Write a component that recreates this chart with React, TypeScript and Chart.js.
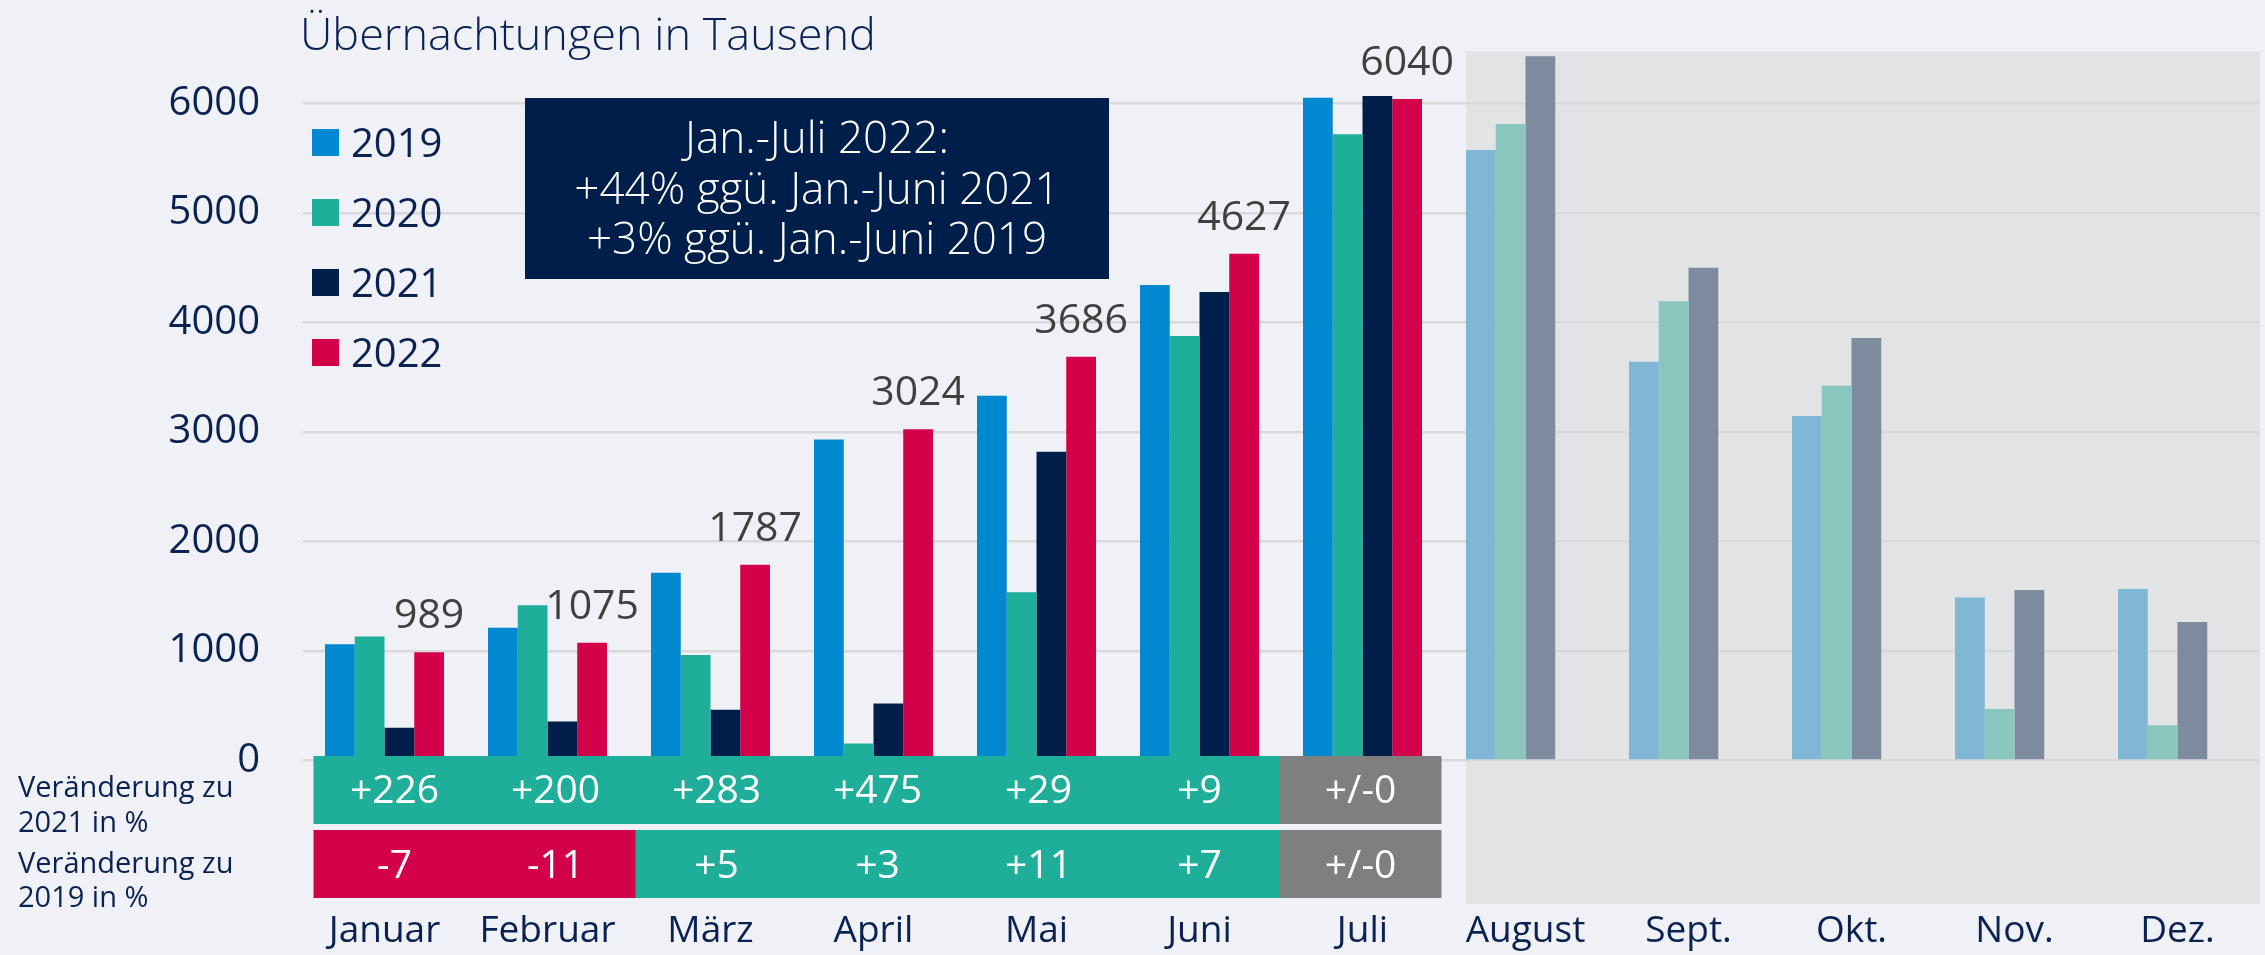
import React, { useEffect, useRef } from 'react';
import { Chart, registerables } from 'chart.js';

Chart.register(...registerables);

// ---------- data ----------
const MONTHS = ['Januar', 'Februar', 'März', 'April', 'Mai', 'Juni', 'Juli', 'August', 'Sept.', 'Okt.', 'Nov.', 'Dez.'];
const YEARS = ['2019', '2020', '2021', '2022'];
const VALUES_2019 = [1062, 1213, 1715, 2930, 3330, 4341, 6051, 5574, 3641, 3146, 1488, 1566];
const VALUES_2020 = [1132, 1417, 964, 156, 1535, 3876, 5717, 5811, 4192, 3422, 470, 321];
const VALUES_2021 = [299, 357, 464, 521, 2819, 4277, 6067, 6429, 4499, 3857, 1556, 1265];
const VALUES_2022 = [989, 1075, 1787, 3024, 3686, 4627, 6040, null, null, null, null, null];
const CHANGE_VS_2021 = ['+226', '+200', '+283', '+475', '+29', '+9', '+/-0'];
const CHANGE_VS_2019 = ['-7', '-11', '+5', '+3', '+11', '+7', '+/-0'];
const Y_TICKS = [0, 1000, 2000, 3000, 4000, 5000, 6000];
const TITLE = 'Übernachtungen in Tausend';
const NOTE_LINES = ['Jan.-Juli 2022:', '+44% ggü. Jan.-Juni 2021', '+3% ggü. Jan.-Juni 2019'];
const ROW_LABELS = [['Veränderung zu', '2021 in %'], ['Veränderung zu', '2019 in %']];

// ---------- styles ----------
const W = 2265;
const H = 955;
const BG = '#f0f1f6';
const SHADE = '#e2e3e5';
const NAVY_TEXT = '#0b2251';
const FULL_COLORS = ['#0089d0', '#1eae9a', '#001e4a', '#d3004a'];
const LIGHT_COLORS = ['#7fb7d5', '#89c6be', '#7e8a9d', '#e08aa5'];
const POS_COLOR = '#1eae9a';
const NEG_COLOR = '#d3004a';
const ZERO_COLOR = '#7f7f7f';
const GRID_COLOR = '#d9d9dc';
const FONT = "'Open Sans', 'Noto Sans', sans-serif";
const GROUP_FRACTION = 0.73;

function drawText(ctx: CanvasRenderingContext2D, s: string, x: number, y: number, font: string, color: string, align: CanvasTextAlign = 'left', baseline: CanvasTextBaseline = 'alphabetic') {
  ctx.save();
  ctx.font = font;
  ctx.fillStyle = color;
  ctx.textAlign = align;
  ctx.textBaseline = baseline;
  ctx.fillText(s, x, y);
  ctx.restore();
}

function changeColor(s: string) {
  if (s.startsWith('+/-')) return ZERO_COLOR;
  if (s.startsWith('-')) return NEG_COLOR;
  return POS_COLOR;
}

function noScalePadding(s: any) {
  s.paddingLeft = 0;
  s.paddingRight = 0;
  s.paddingTop = 0;
  s.paddingBottom = 0;
}

const backgroundPlugin = {
  id: 'bgShade',
  beforeDraw(chart: any) {
    const { ctx, chartArea, scales } = chart;
    ctx.save();
    ctx.fillStyle = BG;
    ctx.fillRect(0, 0, chart.width, chart.height);
    const xs = scales.x;
    const catW = (xs.right - xs.left) / MONTHS.length;
    const firstForecast = VALUES_2022.findIndex((v) => v === null);
    const left = xs.getPixelForValue(firstForecast) - (catW * GROUP_FRACTION) / 2;
    ctx.fillStyle = SHADE;
    ctx.fillRect(left, chartArea.top + 3, chartArea.right + 1 - left, 904 - (chartArea.top + 3));
    ctx.restore();
  },
};

const overlayPlugin = {
  id: 'overlay',
  afterDatasetsDraw(chart: any) {
    const { ctx, scales, chartArea } = chart;
    const xs = scales.x;
    const catW = (xs.right - xs.left) / MONTHS.length;

    // title
    drawText(ctx, TITLE, chartArea.left - 3, 50, `300 45px ${FONT}`, NAVY_TEXT);

    // legend
    chart.data.datasets.forEach((ds: any, i: number) => {
      const top = 129 + i * 70;
      ctx.save();
      ctx.fillStyle = FULL_COLORS[i];
      ctx.fillRect(chartArea.left + 9, top, 27, 27);
      ctx.restore();
      drawText(ctx, ds.label, chartArea.left + 48, top + 28, `40px ${FONT}`, NAVY_TEXT);
    });

    // note box
    const bx = 525, by = 98, bw = 584, bh = 181;
    ctx.save();
    ctx.fillStyle = '#001e4a';
    ctx.fillRect(bx, by, bw, bh);
    ctx.restore();
    NOTE_LINES.forEach((line, i) => {
      drawText(ctx, line, bx + bw / 2, 153 + i * 50.7, `300 44px ${FONT}`, '#ffffff', 'center');
    });

    // data labels for 2022
    const meta = chart.getDatasetMeta(3);
    VALUES_2022.forEach((v, i) => {
      if (v === null) return;
      const el = meta.data[i];
      drawText(ctx, String(v), el.x, el.y - 24, `41px ${FONT}`, '#404040', 'center');
    });

    // change rows
    const left = xs.getPixelForValue(0) - catW / 2 + 11;
    const right = xs.getPixelForValue(CHANGE_VS_2021.length - 1) + catW / 2 - 3;
    const cellW = (right - left) / CHANGE_VS_2021.length;
    const rows = [
      { values: CHANGE_VS_2021, top: 756, bottom: 824, base: 803 },
      { values: CHANGE_VS_2019, top: 830, bottom: 898, base: 878 },
    ];
    rows.forEach((row) => {
      row.values.forEach((s, i) => {
        ctx.save();
        ctx.fillStyle = changeColor(s);
        ctx.fillRect(left + i * cellW - 0.5, row.top, cellW + 1, row.bottom - row.top);
        ctx.restore();
      });
      row.values.forEach((s, i) => {
        drawText(ctx, s, left + (i + 0.5) * cellW, row.base, `39px ${FONT}`, '#ffffff', 'center');
      });
    });

    // row captions
    const captionBases = [[797, 832], [873, 907]];
    ROW_LABELS.forEach((lines, r) => {
      lines.forEach((line, j) => {
        drawText(ctx, line, 18, captionBases[r][j], `29px ${FONT}`, NAVY_TEXT);
      });
    });
  },
};

export default function App() {
  const canvasRef = useRef<HTMLCanvasElement | null>(null);

  useEffect(() => {
    document.body.style.margin = '0';
    document.body.style.background = BG;
    const canvas = canvasRef.current;
    if (!canvas) return;
    const series = [VALUES_2019, VALUES_2020, VALUES_2021, VALUES_2022];
    const chart = new Chart(canvas, {
      type: 'bar',
      data: {
        labels: MONTHS,
        datasets: YEARS.map((y, i) => ({
          label: y,
          data: series[i],
          backgroundColor: VALUES_2022.map((v) => (v === null ? LIGHT_COLORS[i] : FULL_COLORS[i])),
          borderWidth: 0,
          categoryPercentage: GROUP_FRACTION,
          barPercentage: 1,
        })),
      },
      options: {
        responsive: false,
        maintainAspectRatio: false,
        animation: false,
        devicePixelRatio: 1,
        layout: { padding: { left: 0, right: 6, top: 48.5, bottom: 0 } },
        plugins: {
          legend: { display: false },
          tooltip: { enabled: false },
          title: { display: false },
        },
        scales: {
          x: {
            grid: { display: false, drawTicks: false },
            border: { display: false },
            ticks: {
              padding: 149,
              autoSkip: false,
              maxRotation: 0,
              color: NAVY_TEXT,
              font: { family: FONT, size: 37 },
            },
            afterFit: (s: any) => {
              s.height = 194.5;
              noScalePadding(s);
            },
          },
          y: {
            min: 0,
            max: 6500,
            grid: { color: GRID_COLOR, lineWidth: 2.5, drawTicks: false },
            border: { display: false },
            ticks: {
              padding: 43,
              color: NAVY_TEXT,
              font: { family: FONT, size: 40 },
              callback: (v: any) => String(v),
            },
            afterBuildTicks: (s: any) => {
              s.ticks = Y_TICKS.map((v) => ({ value: v }));
            },
            afterFit: (s: any) => {
              s.width = 303;
              noScalePadding(s);
            },
          },
        },
      },
      plugins: [backgroundPlugin, overlayPlugin],
    } as any);
    return () => chart.destroy();
  }, []);

  return (
    <div style={{ width: W, height: H, background: BG }}>
      <canvas ref={canvasRef} width={W} height={H} style={{ width: W, height: H, display: 'block' }} />
    </div>
  );
}
